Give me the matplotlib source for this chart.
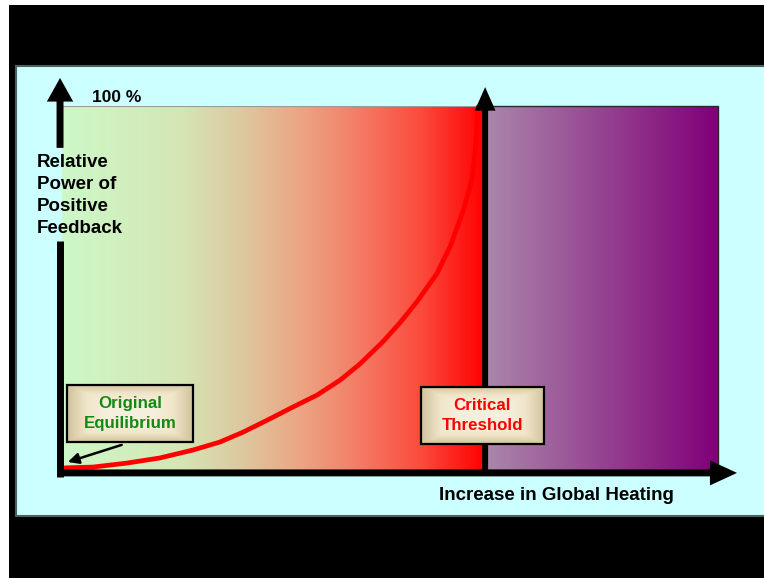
import numpy as np
import matplotlib
matplotlib.use('Agg')
import matplotlib.pyplot as plt
from matplotlib.patches import Rectangle, FancyArrowPatch, ArrowStyle
from matplotlib.colors import LinearSegmentedColormap

plt.rcParams['font.family'] = ['Liberation Sans', 'DejaVu Sans']

# data: heating (0-100) vs relative power of positive feedback (%)
heating = [0.5, 4.7, 9.9, 14.9, 20.0, 24.1, 27.6, 31.3, 35.2, 38.9, 42.4, 45.4,
           48.9, 51.5, 54.1, 57.2, 59.2, 61.1, 62.5, 63.0, 63.3, 63.4]
feedback = [0.6, 0.8, 1.9, 3.3, 5.5, 7.7, 10.4, 13.7, 17.3, 20.6, 24.7, 29.1,
            35.2, 40.4, 46.2, 54.1, 61.5, 70.9, 79.7, 87.9, 96.2, 99.7]
threshold = 64.5
x_max = 100
y_max = 100

ylabel = 'Relative\nPower of\nPositive\nFeedback'
xlabel = 'Increase in Global Heating'
top_label = '100 %'
start_label = 'Original\nEquilibrium'
crit_label = 'Critical\nThreshold'

warm = LinearSegmentedColormap.from_list('warm', [
    (0.0, '#cdf8c8'), (0.28, '#d5e6b4'), (0.42, '#ddc9a0'), (0.56, '#eba684'),
    (0.70, '#f47c66'), (0.85, '#fb4a3c'), (1.0, '#ff0000')])
purple = LinearSegmentedColormap.from_list('purple', ['#aa88aa', '#800078'])
beige = LinearSegmentedColormap.from_list('beige', ['#d3c49c', '#efe5c9', '#f6efdd'])

fig = plt.figure(figsize=(7.64, 5.78), dpi=100)

# slide background in pixel coords
bg = fig.add_axes([0, 0, 1, 1])
bg.set_xlim(0, 764)
bg.set_ylim(578, 0)
bg.axis('off')
bg.add_patch(Rectangle((9, 5), 760, 580, fc='black', ec='none'))
bg.add_patch(Rectangle((16, 66), 760, 450, fc='#ccffff', ec='#4d6060', lw=1.5))

ax = fig.add_axes([62 / 764, (578 - 470) / 578, 656 / 764, 364 / 578])
ax.set_xlim(0, x_max)
ax.set_ylim(0, y_max)
ax.axis('off')
ax.patch.set_visible(False)

grad = np.linspace(0, 1, 256)[None, :]
ax.imshow(grad, cmap=warm, extent=[0, threshold, 0, y_max], aspect='auto', zorder=1)
ax.imshow(grad, cmap=purple, extent=[threshold, x_max, 0, y_max], aspect='auto', zorder=1)
ax.plot([0, threshold], [y_max, y_max], color='#9a9a9a', lw=0.8, zorder=2)
ax.add_patch(Rectangle((threshold, 0), x_max - threshold, y_max, fc='none',
                       ec='#2a2a2a', lw=1.0, zorder=2, clip_on=False))

ax.plot(heating, feedback, color='red', lw=3.4, solid_capstyle='round',
        solid_joinstyle='round', zorder=3, clip_on=False)


def big_arrow(p0, p1, hl, hw, tw):
    a = FancyArrowPatch(p0, p1, arrowstyle=ArrowStyle.Simple(head_length=hl, head_width=hw, tail_width=tw),
                        mutation_scale=1, fc='black', ec='none', shrinkA=0, shrinkB=0,
                        zorder=5, clip_on=False)
    ax.add_patch(a)


# axes arrows
ax.plot([-0.3, -0.3], [-2.0, 63.0], color='black', lw=5, solid_capstyle='butt', zorder=5,
        clip_on=False)
big_arrow((-0.3, 88.5), (-0.3, 107.7), 17, 19, 5)
big_arrow((-0.5, -0.8), (102.9, -0.8), 19.5, 18, 5)
big_arrow((threshold, -0.8), (threshold, 105.2), 17, 15, 4.3)

# labels
ax.text(-3.8, 75.3, ylabel, ha='left', va='center', fontsize=13.5, fontweight='bold',
        linespacing=1.38, zorder=6)
ax.text(4.6, 102.2, top_label, ha='left', va='center', fontsize=12.5, fontweight='bold',
        zorder=6)
ax.text(75.3, -6.9, xlabel, ha='center', va='center', fontsize=13.5, fontweight='bold',
        zorder=6)


def label_box(x0, x1, y0, y1, text, color):
    n = 60
    u = np.linspace(0, 1, n)
    d = np.minimum(np.minimum(u[None, :], 1 - u[None, :]), np.minimum(u[:, None], 1 - u[:, None]))
    d = np.clip(d / 0.3, 0, 1)
    ax.imshow(d, cmap=beige, extent=[x0, x1, y0, y1], aspect='auto', zorder=7, vmin=0, vmax=1)
    ax.add_patch(Rectangle((x0, y0), x1 - x0, y1 - y0, fc='none', ec='black', lw=1.6,
                           zorder=8, clip_on=False))
    ax.text((x0 + x1) / 2, (y0 + y1) / 2, text, ha='center', va='center', color=color,
            fontsize=12.2, fontweight='bold', linespacing=1.45, zorder=9)


label_box(0.8, 20.0, 7.7, 23.4, start_label, '#138a13')
label_box(54.7, 73.5, 7.1, 22.8, crit_label, '#ff0000')

ax.annotate('', xy=(0.9, 2.2), xytext=(9.1, 6.9),
            arrowprops=dict(arrowstyle='-|>', lw=1.8, color='black', mutation_scale=16,
                            shrinkA=0, shrinkB=0), zorder=6)

ax.set_xlim(0, x_max)
ax.set_ylim(0, y_max)
fig.savefig('out.png', dpi=100)
